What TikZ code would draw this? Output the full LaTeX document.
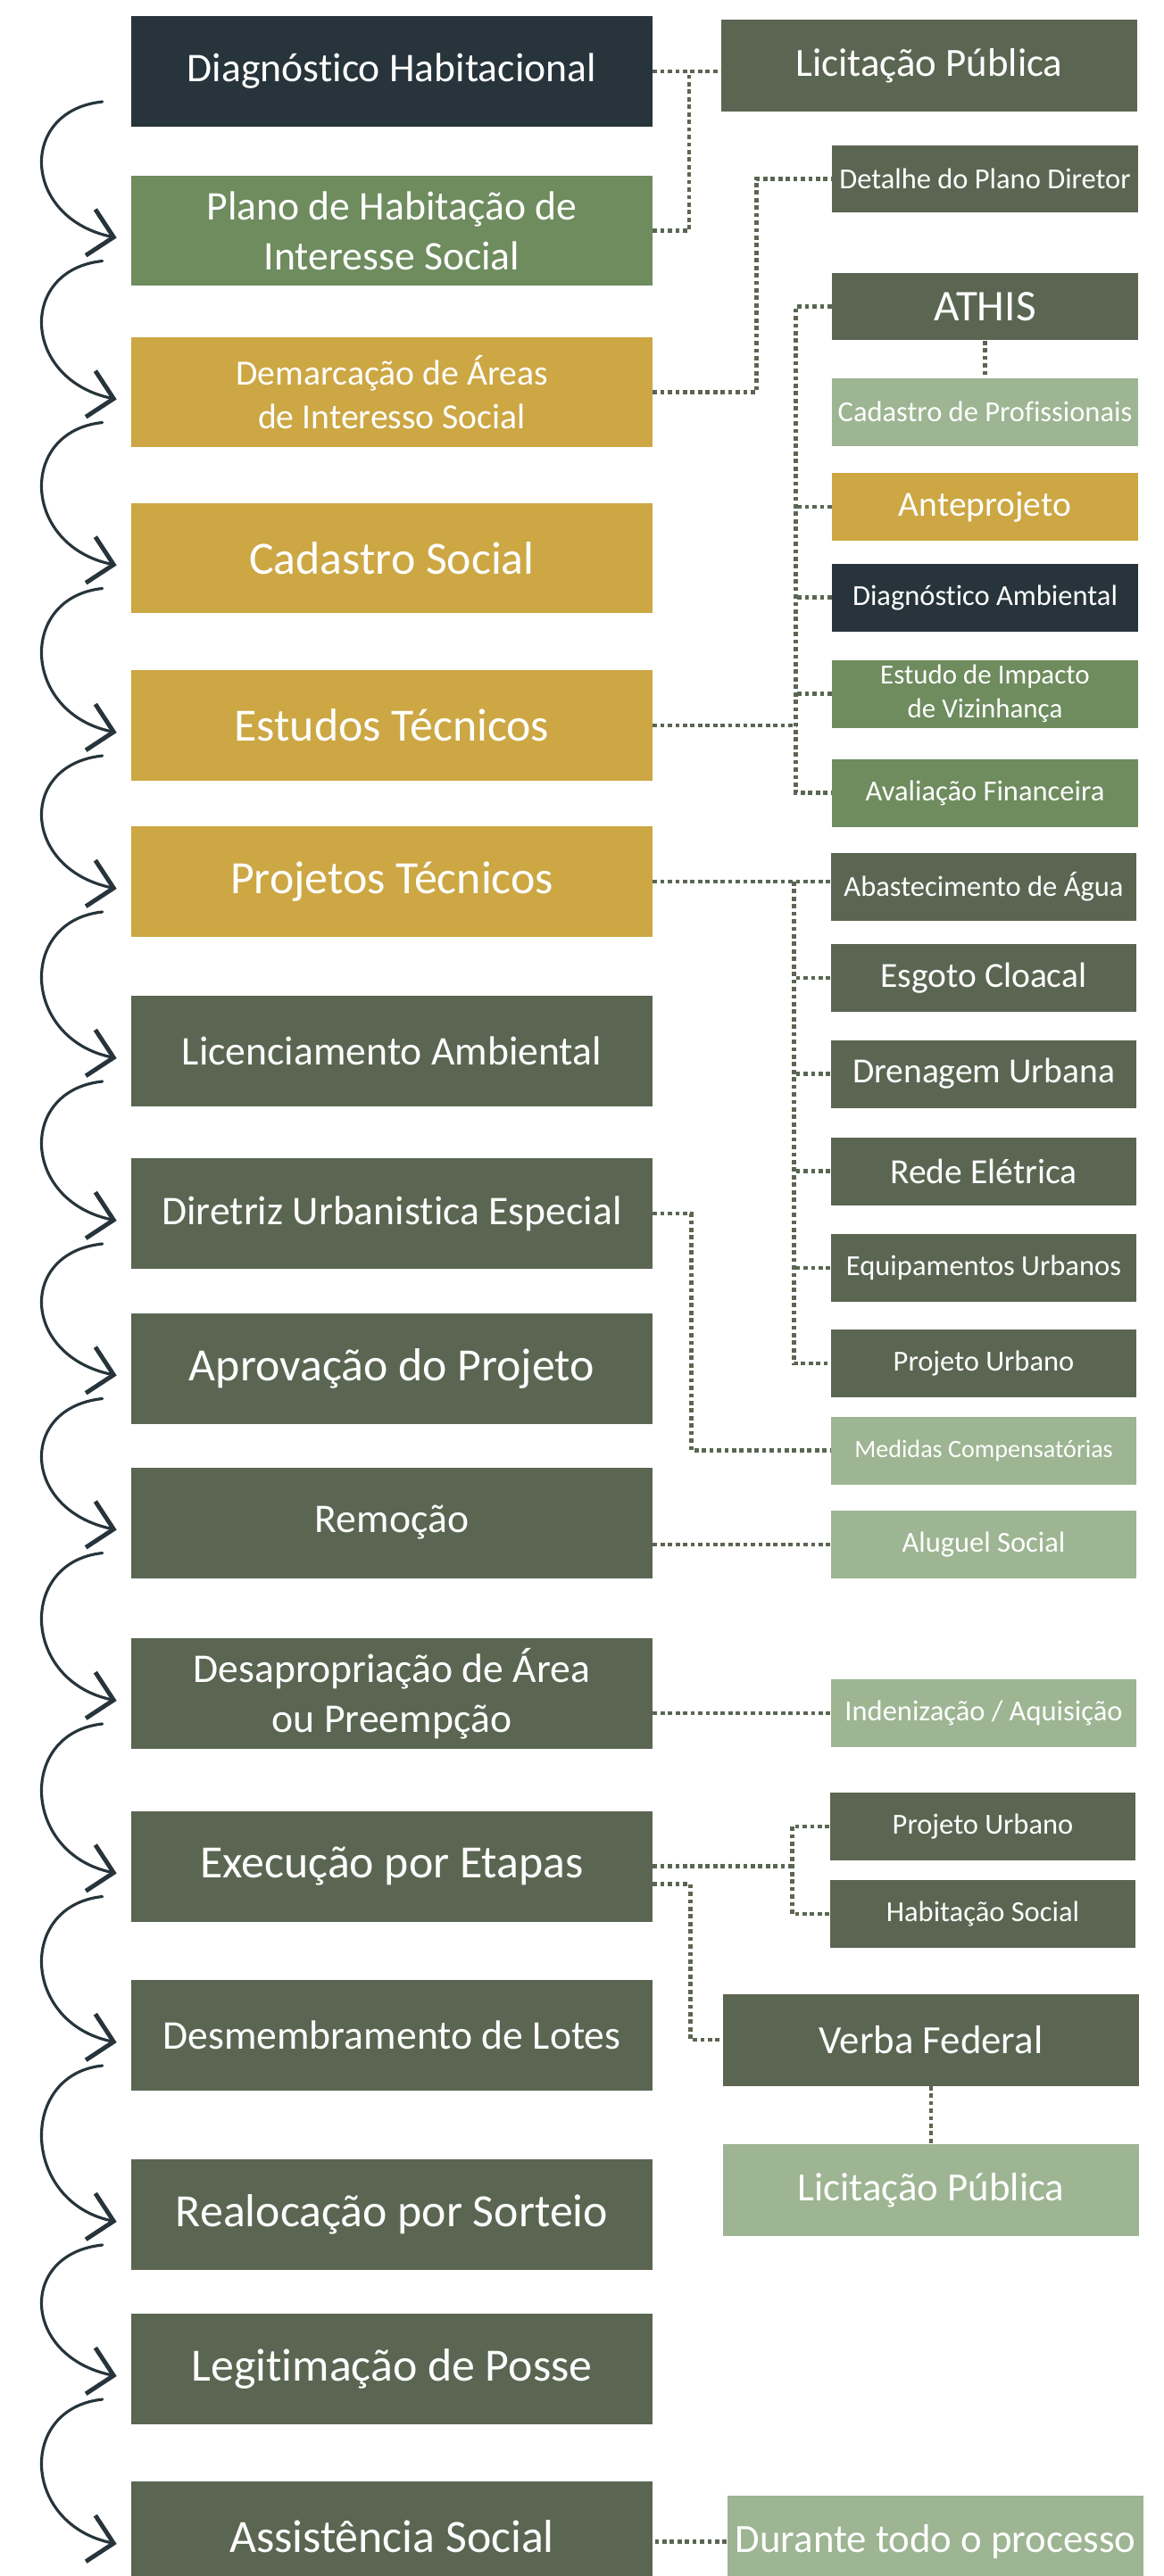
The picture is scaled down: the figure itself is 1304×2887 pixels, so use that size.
\documentclass[tikz,border=0pt]{standalone}
\usepackage{fontspec}
\setmainfont{Carlito}[Ligatures=NoCommon]
\usepackage{xcolor}
\usepackage{tikz}
\usetikzlibrary{calc, positioning, arrows.meta}
\definecolor{navy}{HTML}{27343B}
\definecolor{olive}{HTML}{5B6652}
\definecolor{leaf}{HTML}{6E8C5E}
\definecolor{mustard}{HTML}{CCA743}
\definecolor{sage}{HTML}{9DB592}
\tikzset{
    stage/.style={rectangle, inner sep=0pt, text=white, align=center, minimum width=11.68cm, minimum height=2.48cm},
    stagebig/.style={font=\fontsize{29.5}{34}\selectfont},
    stagemid/.style={font=\fontsize{26}{32}\selectfont},
    detail/.style={rectangle, inner sep=0pt, text=white, align=center, minimum width=6.86cm, minimum height=1.52cm, font=\fontsize{18.5}{22}\selectfont},
    detailbig/.style={detail, font=\fontsize{22.5}{26}\selectfont},
    sidebox/.style={rectangle, inner sep=0pt, text=white, align=center, minimum width=9.34cm, minimum height=2.06cm, font=\fontsize{25.5}{30}\selectfont},
    connector/.style={draw=olive, line width=2.7pt, dash pattern=on 2.7pt off 2.1pt},
    flowarrow/.style={draw=navy, line width=1.8pt, line cap=round, -{Straight Barb[length=15pt, width=30pt, line width=2.8pt]}}
}

\begin{document}
\begin{tikzpicture}[x=0.02cm, y=-0.02cm]
    \clip (0,0) rectangle (1304,2887);

    % main stages
    \node[stage, stagemid, fill=navy] (diaghab) at (439,80) {Diagnóstico Habitacional};
    \node[stage, stagemid, fill=leaf] (plano) at (439,258.5) {Plano de Habitação de\\Interesse Social};
    \node[stage, fill=mustard, font=\fontsize{22.6}{28}\selectfont] (demarc) at (439,439.5) {Demarcação de Áreas\\de Interesso Social};
    \node[stage, stagebig, fill=mustard] (cadsoc) at (439,625.5) {Cadastro Social};
    \node[stage, stagebig, fill=mustard] (estudos) at (439,813) {Estudos Técnicos};
    \node[stage, stagebig, fill=mustard] (projetos) at (439,988) {Projetos Técnicos};
    \node[stage, stagemid, fill=olive] (licamb) at (439,1178) {Licenciamento Ambiental};
    \node[stage, stagemid, fill=olive] (diretriz) at (439,1360) {Diretriz Urbanistica Especial};
    \node[stage, stagebig, fill=olive] (aprov) at (439,1533.5) {Aprovação do Projeto};
    \node[stage, stagemid, fill=olive] (remocao) at (439,1706.5) {Remoção};
    \node[stage, stagemid, fill=olive] (desapr) at (439,1898) {Desapropriação de Área\\ou Preempção};
    \node[stage, stagebig, fill=olive] (execucao) at (439,2091.5) {Execução por Etapas};
    \node[stage, stagemid, fill=olive] (desmemb) at (439,2281) {Desmembramento de Lotes};
    \node[stage, stagebig, fill=olive] (realoc) at (439,2482) {Realocação por Sorteio};
    \node[stage, stagebig, fill=olive] (legit) at (439,2655) {Legitimação de Posse};
    \node[stage, stagebig, fill=olive] (assist) at (439,2843) {Assistência Social};

    % side items
    \node[sidebox, fill=olive] (licit) at (1041,73.5) {Licitação Pública};
    \node[detail, fill=olive] (detalhe) at (1103.5,200.5) {Detalhe do Plano Diretor};
    \node[detail, fill=olive, font=\fontsize{28}{32}\selectfont] (athis) at (1103.5,343.5) {ATHIS};
    \node[detail, fill=sage] (cadprof) at (1103.5,461.5) {Cadastro de Profissionais};
    \node[detailbig, fill=mustard] (antep) at (1103.5,568) {Anteprojeto};
    \node[detail, fill=navy] (diagamb) at (1103.5,669.5) {Diagnóstico Ambiental};
    \node[detail, fill=leaf, font=\fontsize{17.6}{22}\selectfont] (impacto) at (1103.5,777.5) {Estudo de Impacto\\de Vizinhança};
    \node[detail, fill=leaf] (avalia) at (1103.5,888.5) {Avaliação Financeira};
    \node[detail, fill=olive] (abast) at (1102,993.5) {Abastecimento de Água};
    \node[detailbig, fill=olive] (esgoto) at (1102,1096) {Esgoto Cloacal};
    \node[detailbig, fill=olive] (drenagem) at (1102,1203.5) {Drenagem Urbana};
    \node[detailbig, fill=olive] (rede) at (1102,1312.5) {Rede Elétrica};
    \node[detail, fill=olive] (equip) at (1102,1421) {Equipamentos Urbanos};
    \node[detail, fill=olive] (projurb) at (1102,1528) {Projeto Urbano};
    \node[detail, fill=sage, font=\fontsize{16}{20}\selectfont] (medidas) at (1102,1625.5) {Medidas Compensatórias};
    \node[detail, fill=sage] (aluguel) at (1102,1731) {Aluguel Social};
    \node[detail, fill=sage] (indeniz) at (1102,1920) {Indenização / Aquisição};
    \node[detail, fill=olive] (projurbb) at (1101,2047) {Projeto Urbano};
    \node[detail, fill=olive] (habsoc) at (1101,2145) {Habitação Social};
    \node[sidebox, fill=olive] (verba) at (1043,2286) {Verba Federal};
    \node[sidebox, fill=sage] (licitb) at (1043,2454.5) {Licitação Pública};
    \node[sidebox, fill=sage] (durante) at (1048,2848.5) {Durante todo o processo};

    % bus lines
    \coordinate (busL) at (772,80);
    \coordinate (busA) at ($(athis.west)+(-40,0)$);
    \coordinate (busB) at ($(abast.west)+(-41,0)$);
    \coordinate (busC) at ($(projurbb.west)+(-42,0)$);

    \draw[connector] (diaghab.east) -- (diaghab.east -| licit.west);
    \draw[connector] (plano.east) -| (busL);
    \draw[connector] (demarc.east) -- ++(116,0) |- (detalhe.west);

    \draw[connector] (athis.west) -- (busA) |- (avalia.west);
    \foreach \n in {antep, diagamb, impacto}
        \draw[connector] (\n.west) -- (\n.west -| busA);
    \draw[connector] (estudos.east) -- (estudos.east -| busA);
    \draw[connector] (athis.south) -- (cadprof.north);

    \draw[connector] (projetos.east) -- (projetos.east -| abast.west);
    \draw[connector] (projetos.east -| busB) |- (projurb.west);
    \foreach \n in {esgoto, drenagem, rede, equip}
        \draw[connector] (\n.west) -- (\n.west -| busB);

    \draw[connector] (diretriz.east) -- ++(43,0) |- (medidas.west);
    \draw[connector] (aluguel.west) -- (aluguel.west -| remocao.east);
    \draw[connector] (indeniz.west) -- (indeniz.west -| desapr.east);

    \draw[connector] (execucao.east) -- (execucao.east -| busC);
    \draw[connector] (projurbb.west) -- (busC) |- (habsoc.west);
    \draw[connector] ([shift={(0,20)}]execucao.east) -- ++(42,0) |- (verba.west);
    \draw[connector] (verba.south) -- (licitb.north);
    \draw[connector] (durante.west) -- (durante.west -| assist.east);

    % curved flow arrows
    \foreach \a/\b in {diaghab/plano, plano/demarc, demarc/cadsoc, cadsoc/estudos, estudos/projetos, projetos/licamb, licamb/diretriz, diretriz/aprov, aprov/remocao, remocao/desapr, desapr/execucao, execucao/desmemb, desmemb/realoc, realoc/legit, legit/assist}
        \draw[flowarrow] ([shift={(-32,34)}]\a.west) .. controls +(-95,10) and +(-106,-22) .. ([shift={(-16,8)}]\b.west);
\end{tikzpicture}
\end{document}
